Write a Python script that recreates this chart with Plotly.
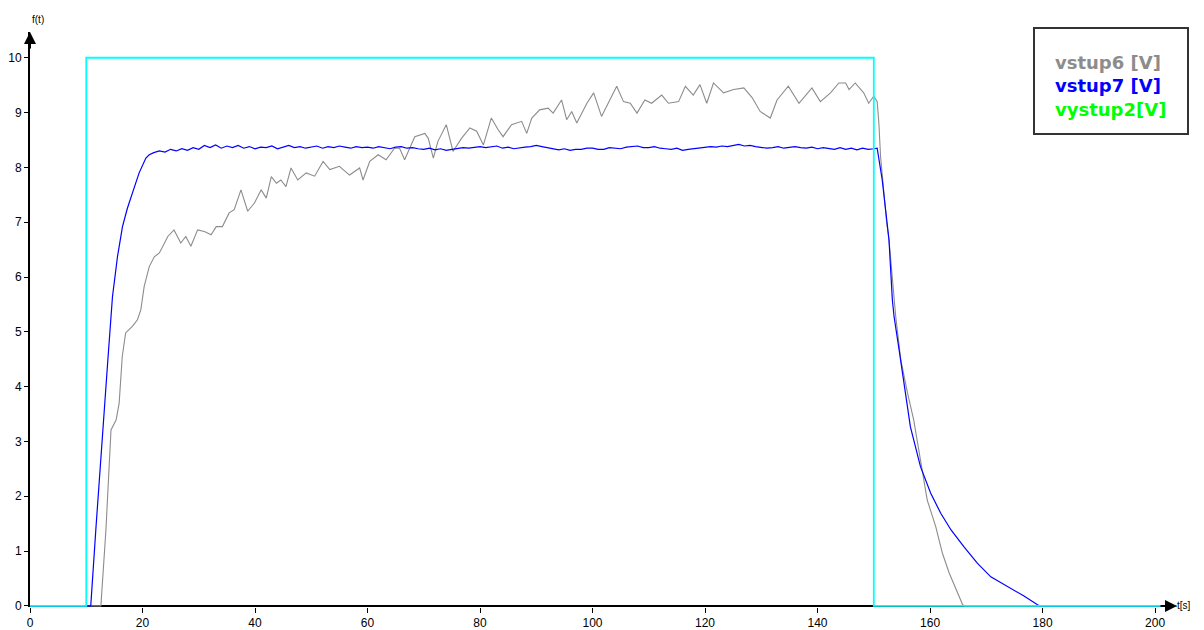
import plotly.graph_objects as go

# vstup6 [V] - measured response (gray)
t_vstup6 = [0, 12.6, 13.5, 14.4, 15.3, 15.85, 16.4, 17.0, 17.6, 18.2, 19.1, 19.7, 20.3, 21.2,
            22.1, 23.0, 24.5, 25.6, 26.8, 27.7, 28.6, 29.8, 31.0, 32.2, 33.1, 34.2, 35.4,
            36.3, 37.5, 38.7, 39.9, 41.1, 42.0, 42.9, 43.8, 44.6, 45.5, 46.4, 47.6, 49.1,
            50.6, 52.1, 53.3, 55.0, 56.8, 58.6, 59.2, 60.4, 61.9, 63.3, 64.8, 65.7, 66.6,
            68.4, 70.2, 70.8, 71.7, 72.5, 74.0, 75.2, 76.7, 78.2, 79.4, 80.6, 82.0, 83.2,
            84.1, 85.6, 87.4, 88.3, 89.2, 90.6, 92.1, 93.0, 94.5, 95.4, 96.3, 97.2, 99.0,
            100.2, 101.6, 102.8, 104.3, 105.5, 106.7, 107.9, 109.3, 110.5, 112.3, 113.5,
            115.3, 116.5, 117.9, 119.1, 120.3, 121.5, 123.3, 125.1, 126.9, 128.4, 129.8,
            131.6, 132.8, 134.8, 136.7, 139.0, 140.5, 142.3, 143.8, 145.0, 145.6, 146.7,
            148.2, 149.1, 150.0, 150.6, 150.9, 151.2, 151.7, 152.3, 152.7, 153.9, 154.8,
            156.0, 157.1, 158.3, 159.5, 161.0, 162.2, 163.4, 164.6, 165.8, 166.2, 203.9]
v_vstup6 = [0, 0, 1.39, 3.21, 3.39, 3.70, 4.55, 4.98, 5.04, 5.10, 5.22, 5.40, 5.83, 6.19,
            6.37, 6.44, 6.74, 6.86, 6.62, 6.74, 6.56, 6.86, 6.83, 6.77, 6.92, 6.92, 7.17,
            7.23, 7.59, 7.20, 7.35, 7.59, 7.44, 7.83, 7.71, 7.77, 7.65, 7.99, 7.77, 7.90,
            7.84, 8.11, 7.96, 8.02, 7.86, 7.99, 7.77, 8.11, 8.23, 8.14, 8.35, 8.35, 8.14,
            8.56, 8.62, 8.53, 8.17, 8.47, 8.78, 8.29, 8.53, 8.72, 8.66, 8.41, 8.90, 8.69,
            8.56, 8.78, 8.84, 8.62, 8.90, 9.05, 9.08, 8.99, 9.23, 8.87, 9.02, 8.81, 9.17,
            9.36, 8.93, 9.17, 9.48, 9.20, 9.17, 8.99, 9.23, 9.17, 9.32, 9.17,
            9.20, 9.48, 9.32, 9.51, 9.17, 9.54, 9.36, 9.42, 9.45, 9.27, 9.02,
            8.90, 9.23, 9.48, 9.17, 9.45, 9.20, 9.36, 9.54, 9.54, 9.42, 9.54,
            9.36, 9.17, 9.30, 9.20, 8.81, 8.20, 7.59, 6.98, 6.68, 5.28, 4.49,
            3.88, 3.39, 2.66, 1.93, 1.45, 0.96, 0.60, 0.30, 0.02, 0, 0]

# vstup7 [V] - filtered response (blue)
t_vstup7 = [0, 10.8, 11.7, 12.9, 13.8, 14.66, 15.55, 16.44, 17.3, 18.2, 19.4, 20.6, 21.2,
            22, 23, 24, 25, 26, 27, 28, 29, 30, 31, 32, 33, 34, 35, 36, 37, 38, 39, 40,
            41, 42, 43, 44, 45, 46, 47, 48, 49, 50, 51, 52, 53, 54, 55, 56, 57, 58, 59,
            60, 61, 62, 63, 64, 65, 66, 67, 68, 69, 70, 71, 72, 73, 74, 75, 76, 77, 78,
            79, 80, 81, 82, 83, 84, 85, 86, 87, 88, 89, 90, 91, 92, 93, 94, 95, 96, 97,
            98, 99, 100, 101, 102, 103, 104, 105, 106, 107, 108, 109, 110, 111, 112, 113,
            114, 115, 116, 117, 118, 119, 120, 121, 122, 123, 124, 125, 126, 127, 128,
            129, 130, 131, 132, 133, 134, 135, 136, 137, 138, 139, 140, 141, 142, 143,
            144, 145, 146, 147, 148, 149, 150,
            150.6, 151.5, 152.1, 152.7, 153.3, 153.6, 154.5, 155.4, 156.5, 158.3, 160.1,
            161.9, 163.7, 166.0, 168.4, 170.8, 173.8, 176.7, 179.1, 179.5, 203.9]
v_vstup7 = [0, 0, 1.39, 3.20, 4.43, 5.64, 6.37, 6.92, 7.25, 7.53, 7.90, 8.17, 8.23,
            8.27, 8.30, 8.28, 8.33, 8.30, 8.34, 8.31, 8.36, 8.33, 8.40, 8.36, 8.41, 8.35,
            8.39, 8.36, 8.40, 8.35, 8.38, 8.34, 8.37, 8.36, 8.39, 8.34, 8.37, 8.40, 8.36,
            8.38, 8.35, 8.37, 8.39, 8.35, 8.38, 8.36, 8.39, 8.37, 8.35, 8.38, 8.36, 8.37,
            8.35, 8.38, 8.36, 8.34, 8.37, 8.38, 8.35, 8.36, 8.34, 8.33, 8.35, 8.32, 8.34,
            8.31, 8.33, 8.34, 8.36, 8.35, 8.37, 8.38, 8.36, 8.37, 8.39, 8.35, 8.37, 8.34,
            8.36, 8.37, 8.38, 8.40, 8.38, 8.36, 8.33, 8.32, 8.34, 8.31, 8.33, 8.33, 8.35,
            8.35, 8.33, 8.33, 8.36, 8.35, 8.34, 8.37, 8.38, 8.39, 8.36, 8.36, 8.38, 8.35,
            8.34, 8.33, 8.35, 8.31, 8.33, 8.34, 8.35, 8.36, 8.38, 8.37, 8.39, 8.38, 8.40,
            8.42, 8.39, 8.40, 8.38, 8.37, 8.35, 8.36, 8.38, 8.35, 8.37, 8.38, 8.36, 8.35,
            8.37, 8.34, 8.36, 8.35, 8.33, 8.36, 8.33, 8.35, 8.32, 8.35, 8.33, 8.34,
            8.35, 7.77, 7.17, 6.68, 5.58, 5.28, 4.67, 4.06, 3.27, 2.54, 2.06,
            1.69, 1.39, 1.08, 0.78, 0.53, 0.35, 0.18, 0.02, 0, 0]

# step input (cyan)
t_step = [0, 10, 10, 150, 150, 203.9]
v_step = [0, 0, 10, 10, 0, 0]

x_ticks = [0, 20, 40, 60, 80, 100, 120, 140, 160, 180, 200]
y_ticks = [0, 1, 2, 3, 4, 5, 6, 7, 8, 9, 10]

fig = go.Figure()
fig.add_trace(go.Scatter(x=t_vstup6, y=v_vstup6, mode="lines", name="vstup6 [V]",
                         line=dict(color="#8c8c8c", width=1.1)))
fig.add_trace(go.Scatter(x=t_vstup7, y=v_vstup7, mode="lines", name="vstup7 [V]",
                         line=dict(color="#0000ff", width=1.2)))
fig.add_trace(go.Scatter(x=t_step, y=v_step, mode="lines", name="step",
                         line=dict(color="#00ffff", width=1.8)))

tick_font = dict(family="Liberation Sans, Arial, sans-serif", size=12, color="#000000")

ML, MR, MT, MB = 30, 27, 32, 23
PW, PH = 1204 - ML - MR, 630 - MT - MB

fig.update_layout(
    width=1204, height=630,
    margin=dict(l=ML, r=MR, t=MT, b=MB, autoexpand=False),
    paper_bgcolor="white", plot_bgcolor="white",
    showlegend=False,
    xaxis=dict(range=[0, 203.9], tickvals=x_ticks, ticktext=[str(v) for v in x_ticks],
               showgrid=False, zeroline=False, showline=False,
               ticks="outside", ticklen=5, tickcolor="black",
               tickfont=tick_font, layer="below traces", automargin=False),
    yaxis=dict(range=[-0.02, 10.47], tickvals=y_ticks, ticktext=[str(v) for v in y_ticks],
               showgrid=False, zeroline=True, zerolinecolor="black", zerolinewidth=2,
               showline=True, linecolor="black",
               linewidth=2, ticks="outside", ticklen=4, tickcolor="black",
               tickfont=tick_font, layer="below traces", automargin=False),
)

# axis arrowheads
fig.add_annotation(x=1, y=0, xref="paper", yref="y", ax=-18, ay=0,
                   showarrow=True, arrowhead=2, arrowsize=1.2, arrowwidth=2,
                   arrowcolor="black", text="")
fig.add_annotation(x=0, y=1, xref="paper", yref="paper", ax=0, ay=18,
                   showarrow=True, arrowhead=2, arrowsize=1.2, arrowwidth=2,
                   arrowcolor="black", text="")

# axis captions
fig.add_annotation(x=0, y=1, xref="paper", yref="paper", yshift=20, showarrow=False,
                   text="f(t)", font=dict(family="Liberation Sans, Arial", size=10, color="black"))
fig.add_annotation(x=1, y=0, xref="paper", yref="y", xshift=16, showarrow=False,
                   text="t[s]", font=dict(family="Liberation Sans, Arial", size=10, color="black"))

# legend box with coloured labels
fig.add_shape(type="rect", xref="paper", yref="paper",
              x0=(1034 - ML) / PW, x1=(1188 - ML) / PW,
              y0=(607 - 134) / PH, y1=(607 - 28) / PH,
              line=dict(color="#333333", width=2), fillcolor="white", layer="above")
legend_text = ("<b><span style='color:#8c8c8c'>vstup6 [V]</span><br>"
               "<span style='color:#0000ff'>vstup7 [V]</span><br>"
               "<span style='color:#00ff00'>vystup2[V]</span></b>")
fig.add_annotation(x=(1053 - ML) / PW, y=(607 - 86) / PH, xref="paper", yref="paper",
                   xanchor="left", yanchor="middle",
                   showarrow=False, align="left", text=legend_text,
                   font=dict(family="DejaVu Sans", size=18, color="black"))

fig.write_html("out.html")
